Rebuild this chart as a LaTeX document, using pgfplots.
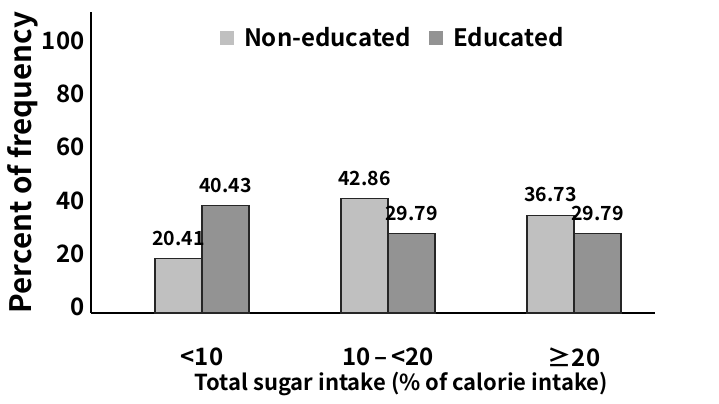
\documentclass[border=0pt]{standalone}
\usepackage{fontspec}
\setmainfont{Noto Sans CJK KR}[BoldFont={* Bold}]
\usepackage{pgfplots}
\pgfplotsset{compat=1.18}
\definecolor{lightbar}{HTML}{C0C0C0}
\definecolor{darkbar}{HTML}{939393}
\begin{document}
\begin{tikzpicture}
\useasboundingbox (-91bp,-91bp) rectangle (628bp,313bp);
\begin{axis}[
  at={(0,0)}, anchor=south west,
  scale only axis, width=564bp, height=301bp,
  font=\bfseries\fontsize{24bp}{28bp}\selectfont,
  /pgf/number format/assume math mode=true,
  ybar, bar width=47bp,
  xmin=-0.597, xmax=2.435, ymin=0, ymax=113,
  axis x line=bottom, axis y line=left,
  axis line style={line width=1.5bp, -},
  xtick={0,1,2}, xticklabels={<10, 10\,–\,<20, ≥20},
  ytick={0,20,40,60,80,100},
  major tick length=0pt,
  yticklabel style={yshift=6bp, xshift=-3bp},
  xticklabel style={yshift=-31bp},
  xlabel={Total sugar intake (\% of calorie intake)},
  xlabel style={at={(axis description cs:0.55,0)}, anchor=north, yshift=-56bp,
    font=\bfseries\fontsize{22bp}{26bp}\selectfont},
  ylabel={Percent of frequency},
  ylabel style={at={(axis description cs:0,0.5)}, anchor=center, yshift=68bp,
    font=\bfseries\fontsize{29.5bp}{32bp}\selectfont},
  nodes near coords,
  nodes near coords style={font=\bfseries\fontsize{19.5bp}{23bp}\selectfont, yshift=9bp},
  every axis plot/.append style={draw=black!85, line width=1.2bp},
  legend style={draw=none, fill=none, at={(0.535,0.914)}, anchor=center, legend columns=2,
    font=\bfseries\fontsize{24bp}{28bp}\selectfont,
    nodes={inner xsep=2bp},
    /tikz/every odd column/.style={column sep=8bp},
    /tikz/every even column/.style={column sep=16bp}},
  legend image code/.code={\fill[#1, draw=none] (0bp,-7bp) rectangle (14bp,7bp);},
]
\addplot[fill=lightbar, bar shift=-23.5bp, point meta=explicit symbolic] coordinates {(0,20.41) [20.41] (1,42.86) [42.86] (2,36.73) [36.73]};
\addplot[fill=darkbar, bar shift=23.5bp, point meta=explicit symbolic] coordinates {(0,40.43) [40.43] (1,29.79) [29.79] (2,29.79) [29.79]};
\legend{Non-educated, Educated}
\end{axis}
\end{tikzpicture}
\end{document}
